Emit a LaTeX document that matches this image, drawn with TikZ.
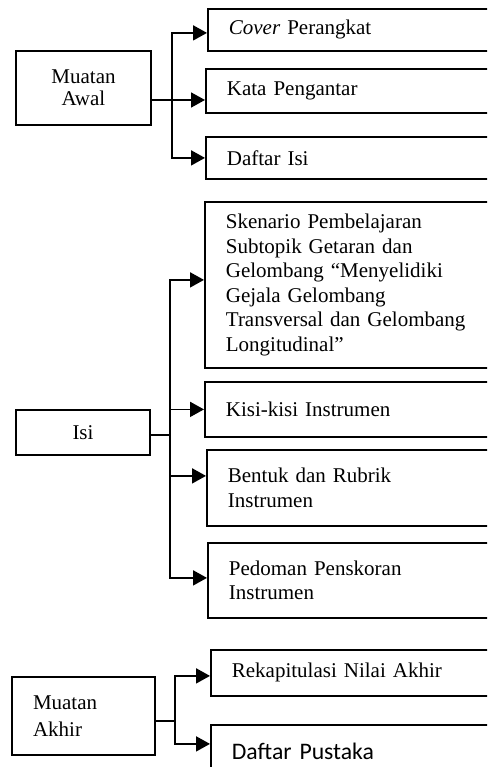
\documentclass[tikz,border=0pt]{standalone}
\usepackage{fontspec}
\setmainfont{Liberation Serif}
\newfontfamily\calibrifont{Carlito}
\usetikzlibrary{arrows.meta}

\tikzset{
  headbox/.style={draw, line width=1.8pt, align=center, inner sep=0pt},
  itembox/.style={draw, line width=1.8pt, anchor=north west, text width=280pt,
    inner xsep=21pt, inner ysep=0pt, align=left, minimum height=#1},
}

\begin{document}
\begin{tikzpicture}[x=1pt, y=-1pt,
    every node/.style={font=\fontsize{21}{24.6}\selectfont},
    conn/.style={line width=1.8pt},
    arr/.style={line width=1.8pt, -{Triangle[length=14pt,width=15pt]}}]
  \useasboundingbox (0,0) rectangle (487,767);
  \clip (0,0) rectangle (487,767);
  % Muatan Awal
  \node[headbox, minimum width=135pt, minimum height=74pt,
    font=\fontsize{21}{22}\selectfont] (awal) at (83.5,88) {Muatan\\Awal};
  \node[itembox=42pt] (cover) at (207,8) {\textit{Cover} Perangkat};
  \node[itembox=44pt] (kata) at (205,68) {Kata Pengantar};
  \node[itembox=42pt] (daftarisi) at (205,136) {Daftar Isi};
  \coordinate (j1) at (172,100);
  \draw[arr] ([yshift=-12pt]awal.east) -- (j1 -| kata.west);
  \draw[arr] (j1) |- ([yshift=-3pt]cover.west);
  \draw[arr] (j1) |- (daftarisi.west);
  % Isi
  \node[headbox, minimum width=134pt, minimum height=45pt] (isi) at (83,432.5) {Isi};
  \node[itembox=166pt] (sken) at (204,201) {Skenario Pembelajaran\\Subtopik Getaran dan\\
    Gelombang “Menyelidiki\\Gejala Gelombang\\Transversal dan Gelombang\\Longitudinal”};
  \node[itembox=55pt] (kisi) at (204,381) {Kisi-kisi Instrumen};
  \node[itembox=76pt] (bentuk) at (206,449) {Bentuk dan Rubrik\\Instrumen};
  \node[itembox=75pt] (pedoman) at (207,542) {Pedoman Penskoran\\Instrumen};
  \coordinate (j2) at (170,435);
  \draw[conn] ([yshift=-2.5pt]isi.east) -- (j2);
  \draw[arr] (j2) |- ([yshift=5pt]sken.west);
  \draw[arr] (j2) |- (kisi.west);
  \draw[arr] (j2) |- ([yshift=12pt]bentuk.west);
  \draw[arr] (j2) |- ([yshift=2.5pt]pedoman.west);
  % Muatan Akhir
  \node[headbox, inner xsep=21pt, text width=101pt, minimum height=78pt,
    align=left, font=\fontsize{21}{26.5}\selectfont] (akhir) at (83.5,716) {Muatan\\Akhir};
  \node[itembox=46pt] (rekap) at (210,649) {Rekapitulasi Nilai Akhir};
  \node[itembox=52pt, font=\calibrifont\fontsize{23.7}{28}\selectfont] (pustaka) at (210,724) {Daftar Pustaka};
  \coordinate (j3) at (175,721);
  \draw[conn] ([yshift=-5pt]akhir.east) -- (j3);
  \draw[arr] (j3) |- ([yshift=-3pt]rekap.west);
  \draw[arr] (j3) |- ([yshift=7pt]pustaka.west);
\end{tikzpicture}
\end{document}
